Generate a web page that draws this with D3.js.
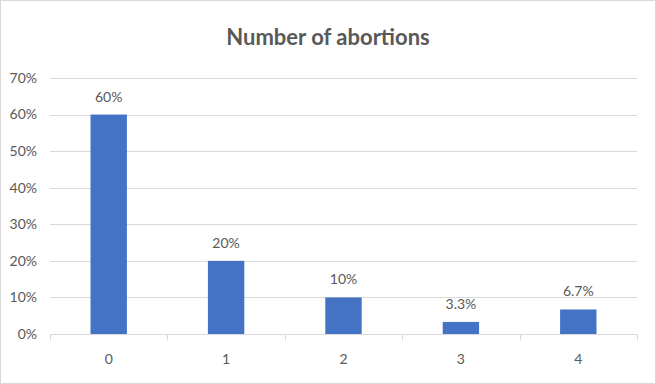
<!DOCTYPE html>
<html>
<head>
<meta charset="utf-8">
<script src="https://cdn.jsdelivr.net/npm/d3@7"></script>
<style>
  body { margin: 0; background: #fff; }
  text { font-family: Lato, "Open Sans", sans-serif; fill: #595959; }
</style>
</head>
<body>
<svg id="chart" width="656" height="384"></svg>
<script>
const categories = ["0", "1", "2", "3", "4"];
const values = [0.60, 0.20, 0.10, 0.033, 0.067];
const valueLabels = ["60%", "20%", "10%", "3.3%", "6.7%"];
const yTicks = [0, 0.1, 0.2, 0.3, 0.4, 0.5, 0.6, 0.7];

const width = 656, height = 384;
const margin = { top: 78, right: 19, bottom: 50, left: 50 };

const svg = d3.select("#chart");

svg.append("rect")
  .attr("x", 0.5).attr("y", 0.5)
  .attr("width", width - 1).attr("height", height - 1)
  .attr("fill", "#fff")
  .attr("stroke", "#d9d9d9");

const x = d3.scaleBand()
  .domain(categories)
  .range([margin.left, width - margin.right])
  .paddingInner(0.69)
  .paddingOuter(0.345);

const y = d3.scaleLinear()
  .domain([0, 0.7])
  .range([height - margin.bottom, margin.top]);

// gridlines
svg.append("g")
  .selectAll("line")
  .data(yTicks)
  .join("line")
    .attr("x1", margin.left)
    .attr("x2", width - margin.right)
    .attr("y1", d => Math.round(y(d)) + 0.5)
    .attr("y2", d => Math.round(y(d)) + 0.5)
    .attr("stroke", "#d9d9d9")
    .attr("stroke-width", 1);

// y labels
svg.append("g")
  .selectAll("text")
  .data(yTicks)
  .join("text")
    .attr("x", margin.left - 13)
    .attr("y", d => y(d))
    .attr("dy", "0.35em")
    .attr("text-anchor", "end")
    .attr("font-size", "14px")
    .text(d => d3.format(".0%")(d));

// bars
svg.append("g")
  .selectAll("rect")
  .data(values)
  .join("rect")
    .attr("x", (d, i) => x(categories[i]))
    .attr("y", d => y(d))
    .attr("width", x.bandwidth())
    .attr("height", d => y(0) - y(d))
    .attr("fill", "#4472c4");

// value labels
svg.append("g")
  .selectAll("text")
  .data(values)
  .join("text")
    .attr("x", (d, i) => x(categories[i]) + x.bandwidth() / 2)
    .attr("y", d => y(d) - 13)
    .attr("text-anchor", "middle")
    .attr("font-size", "14px")
    .text((d, i) => valueLabels[i]);

// x axis baseline and ticks between categories
const step = x.step();
const bounds = d3.range(categories.length + 1).map(i => margin.left + i * step);
const axisY = Math.round(y(0)) + 0.5;

svg.append("line")
  .attr("x1", margin.left).attr("x2", width - margin.right)
  .attr("y1", axisY).attr("y2", axisY)
  .attr("stroke", "#d9d9d9");

svg.append("g")
  .selectAll("line")
  .data(bounds)
  .join("line")
    .attr("x1", d => Math.round(d) + 0.5)
    .attr("x2", d => Math.round(d) + 0.5)
    .attr("y1", axisY)
    .attr("y2", axisY + 6)
    .attr("stroke", "#d9d9d9");

svg.append("g")
  .selectAll("text")
  .data(categories)
  .join("text")
    .attr("x", d => x(d) + x.bandwidth() / 2)
    .attr("y", axisY + 25)
    .attr("dy", "0.35em")
    .attr("text-anchor", "middle")
    .attr("font-size", "14px")
    .text(d => d);

// title
svg.append("text")
  .attr("x", 328)
  .attr("y", 45)
  .attr("text-anchor", "middle")
  .attr("font-size", "22px")
  .attr("font-weight", "bold")
  .text("Number of abortions");
</script>
</body>
</html>
